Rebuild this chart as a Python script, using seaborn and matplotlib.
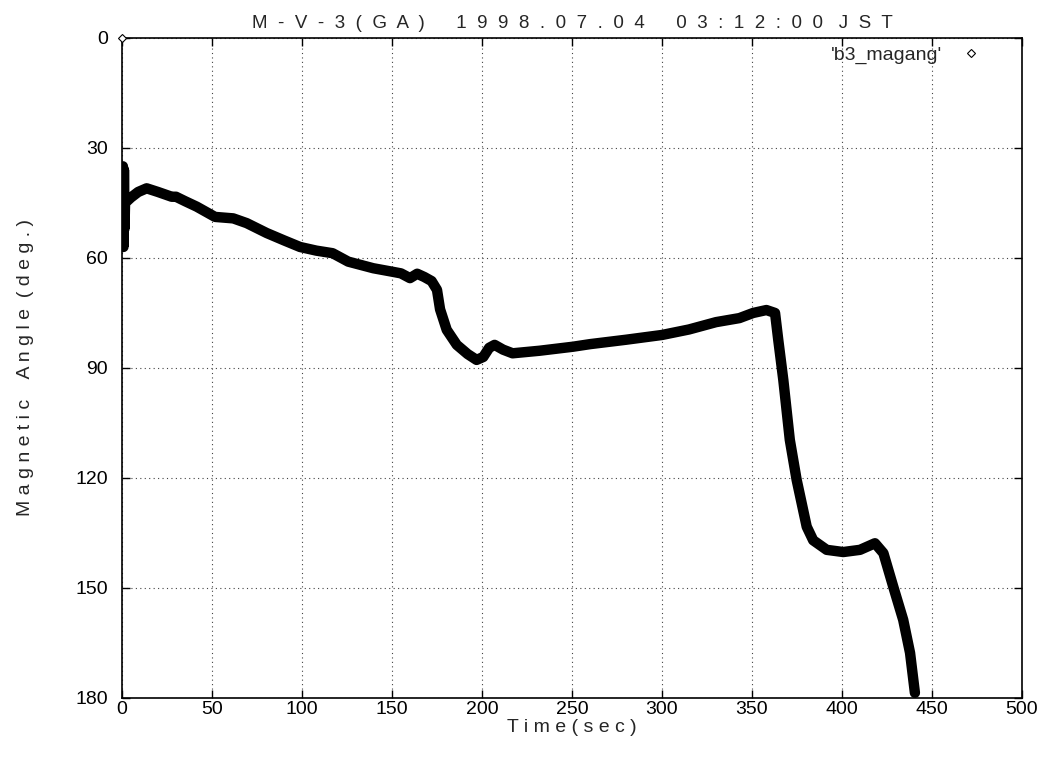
import matplotlib
matplotlib.use("Agg")
import matplotlib.pyplot as plt
from matplotlib.lines import Line2D
import seaborn as sns
import pandas as pd

# ---- data ----
start_time = [0.0]
start_angle = [0.0]

time_sec = [0.3, 0.5, 0.8, 1.1, 1.4, 1.7, 5.0, 9.0, 13.7, 20.0, 27.6, 30.0, 35.0, 41.5,
            51.7, 61.8, 69.3, 80.4, 90.0, 98.9, 108.0, 117.0, 125.7, 139.6, 150.7,
            155.0, 160.0, 164.0, 168.0, 172.0, 175.0, 176.7, 180.4, 186.0, 192.0, 197.0,
            200.7, 204.0, 207.0, 211.7, 217.0, 232.0, 250.6, 260.0, 280.0, 300.0,
            315.0, 330.0, 343.0, 350.6, 358.0, 362.8, 364.6, 367.4, 371.0, 374.8,
            380.4, 384.0, 391.5, 400.7, 410.0, 418.3, 423.0, 428.5, 434.0, 437.8,
            440.5]
angle_deg = [55.0, 35.0, 57.0, 36.0, 52.0, 45.0, 43.5, 42.0, 41.0, 42.0, 43.3, 43.3, 44.5, 46.0,
             48.8, 49.2, 50.5, 53.2, 55.2, 57.0, 58.0, 58.7, 61.0, 62.8, 63.8,
             64.2, 65.5, 64.3, 65.2, 66.3, 68.7, 74.0, 79.6, 83.7, 86.2, 87.8,
             87.0, 84.5, 83.7, 85.0, 86.0, 85.3, 84.2, 83.5, 82.3, 81.0,
             79.5, 77.5, 76.4, 75.0, 74.2, 75.0, 82.4, 93.3, 109.6, 120.5,
             133.3, 137.0, 139.6, 140.2, 139.6, 137.8, 140.5, 149.7, 158.7, 167.7,
             178.6]

xticks = [0, 50, 100, 150, 200, 250, 300, 350, 400, 450, 500]
yticks = [0, 30, 60, 90, 120, 150, 180]

title_groups = ["M-V-3(GA)", "1998.07.04", "03:12:00", "JST"]
xlabel_text = "T i m e ( s e c )"
ylabel_text = "M a g n e t i c    A n g l e  ( d e g . )"
legend_text = "'b3_magang'"


def spaced(s, gap="  "):
    return gap.join(list(s))


title_text = (spaced(title_groups[0]) + "      " + spaced(title_groups[1]) + "      "
              + spaced(title_groups[2]) + "   " + spaced(title_groups[3]))

df = pd.DataFrame({"t": time_sec, "a": angle_deg})
df0 = pd.DataFrame({"t": start_time, "a": start_angle})

sns.set_style("white")
plt.rcParams["font.family"] = ["Liberation Sans", "DejaVu Sans"]

fig = plt.figure(figsize=(10.48, 7.58), dpi=100)
ax = fig.add_axes([0.1164, 0.0792, 0.8588, 0.8707])

sns.lineplot(data=df, x="t", y="a", sort=False, estimator=None, color="black",
             lw=7.5, solid_capstyle="round", solid_joinstyle="round", ax=ax, legend=False)
ax.plot(df0["t"], df0["a"], linestyle="none", marker="D", markersize=4,
        markerfacecolor="white", markeredgecolor="black", markeredgewidth=0.8,
        clip_on=False, zorder=5)

ax.set_xlim(0, 500)
ax.set_ylim(180, 0)
ax.set_xticks(xticks)
ax.set_yticks(yticks)
ax.set_xticklabels([str(v) for v in xticks], fontsize=14)
ax.set_yticklabels([str(v) for v in yticks], fontsize=14)
ax.tick_params(direction="in", length=6, width=1, top=True, right=True,
               bottom=True, left=True, colors="black")
ax.tick_params(axis="x", pad=2)
ax.tick_params(axis="y", pad=10)
ax.grid(True, linestyle=(0, (1, 3)), color="#444444", linewidth=0.8)
for s in ax.spines.values():
    s.set_visible(True)
    s.set_color("black")
    s.set_linewidth(1.2)

ax.set_xlabel(xlabel_text, fontsize=14, labelpad=1)
ax.set_ylabel(ylabel_text, fontsize=14, labelpad=30)
ax.set_title(title_text, fontsize=13.5, pad=7)

handle = Line2D([], [], linestyle="none", marker="D", markersize=4,
                markerfacecolor="white", markeredgecolor="black", markeredgewidth=0.8)
leg = ax.legend([handle], [legend_text], loc="upper right", frameon=False,
                fontsize=14, markerfirst=False, handletextpad=0.9, handlelength=1.2,
                borderaxespad=0, bbox_to_anchor=(0.965, 1.0))

fig.savefig("out.png", dpi=100)
